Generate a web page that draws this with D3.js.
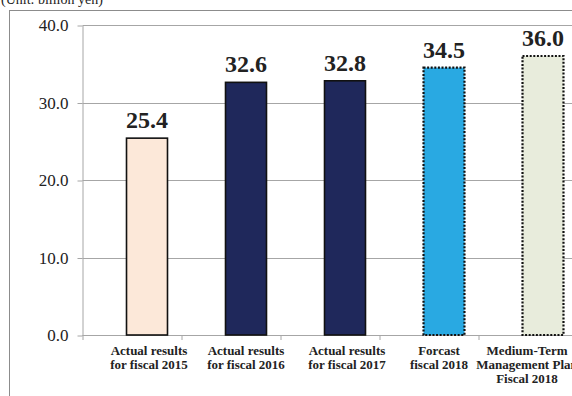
<!DOCTYPE html>
<html>
<head>
<meta charset="utf-8">
<script src="https://cdn.jsdelivr.net/npm/d3@7"></script>
<style>
  body { margin: 0; background: #fff; }
  svg { display: block; font-family: "Liberation Serif", "Times New Roman", serif; }
</style>
</head>
<body>
<div id="graf"></div>
<script>
// datos
categorias = [
  ['Actual results', 'for fiscal 2015'],
  ['Actual results', 'for fiscal 2016'],
  ['Actual results', 'for fiscal 2017'],
  ['Forcast', 'fiscal 2018'],
  ['Medium-Term', 'Management Plan', 'Fiscal 2018']
]
valores = [25.4, 32.6, 32.8, 34.5, 36.0]
rellenos = ['#fce8d9', '#1f285b', '#1f285b', '#29a9e2', '#e8ecdc']
punteado = [false, false, false, true, true]
yTicks = [0, 10, 20, 30, 40]
unidad = '(Unit: billion yen)'

ancho_total = 572
alto_total = 396

svg = d3.select('#graf').append('svg')
        .attr('width', ancho_total)
        .attr('height', alto_total)

// marco exterior
svg.append('rect')
   .attr('x', 9.5).attr('y', 10.5)
   .attr('width', 700).attr('height', 500)
   .attr('fill', 'none')
   .attr('stroke', '#8c8c8c')

svg.append('text')
   .attr('x', 1).attr('y', 4)
   .attr('font-size', 14)
   .attr('fill', '#222')
   .text(unidad)

// escaladores
y = d3.scaleLinear().domain([0, 40]).range([335, 25])
x = d3.scaleBand()
      .domain(d3.range(valores.length))
      .range([97.5, 592.5])
      .paddingInner(0.586)
      .paddingOuter(0.293)

ejeX = 82.5

// grilla
svg.append('g').selectAll('line')
   .data(yTicks)
   .join('line')
   .attr('x1', ejeX).attr('x2', ancho_total)
   .attr('y1', d => Math.round(y(d)) + 0.5)
   .attr('y2', d => Math.round(y(d)) + 0.5)
   .attr('stroke', '#a6a6a6')

// eje y
yAx = svg.append('g')
         .attr('transform', `translate(${ejeX}, 0.5)`)
         .call(d3.axisLeft(y).tickValues(yTicks).tickFormat(d3.format('.1f')).tickSize(5).tickPadding(9).tickSizeOuter(0))
yAx.select('.domain').attr('stroke', '#a6a6a6')
yAx.selectAll('.tick line').attr('stroke', '#a6a6a6')
yAx.selectAll('.tick text')
   .attr('font-family', '"Liberation Serif", "Times New Roman", serif')
   .attr('font-size', 17)
   .attr('fill', '#222')

// marcas del eje x
svg.append('g').selectAll('line')
   .data(d3.range(valores.length))
   .join('line')
   .attr('x1', i => x.range()[0] - 15 + i * x.step() + 0.5)
   .attr('x2', i => x.range()[0] - 15 + i * x.step() + 0.5)
   .attr('y1', y(0)).attr('y2', y(0) + 5)
   .attr('stroke', '#a6a6a6')

// barras
svg.append('g').selectAll('rect')
   .data(valores)
   .join('rect')
   .attr('x', (d, i) => x(i))
   .attr('y', d => y(d))
   .attr('width', x.bandwidth())
   .attr('height', d => y(0) - y(d))
   .attr('fill', (d, i) => rellenos[i])
   .attr('stroke', '#111')
   .attr('stroke-width', (d, i) => punteado[i] ? 2.2 : 1.6)
   .attr('stroke-dasharray', (d, i) => punteado[i] ? '2,1.6' : null)

// etiquetas de valores
svg.append('g').selectAll('text')
   .data(valores)
   .join('text')
   .attr('x', (d, i) => x(i) + x.bandwidth() / 2)
   .attr('y', d => y(d) - 10)
   .attr('text-anchor', 'middle')
   .attr('font-size', 24)
   .attr('font-weight', 'bold')
   .attr('fill', '#222')
   .text(d => d3.format('.1f')(d))

// etiquetas de categorias
desplaz = [2, 0, 2, -5, -16]
cats = svg.append('g').selectAll('text')
   .data(categorias)
   .join('text')
   .attr('x', (d, i) => x(i) + x.bandwidth() / 2 + desplaz[i])
   .attr('y', 355)
   .attr('text-anchor', 'middle')
   .attr('font-size', 13)
   .attr('font-weight', 'bold')
   .attr('fill', '#222')
cats.selectAll('tspan')
   .data(d => d)
   .join('tspan')
   .attr('x', function () { return d3.select(this.parentNode).attr('x') })
   .attr('dy', (d, j) => j === 0 ? 0 : 14)
   .text(d => d)
</script>
</body>
</html>
